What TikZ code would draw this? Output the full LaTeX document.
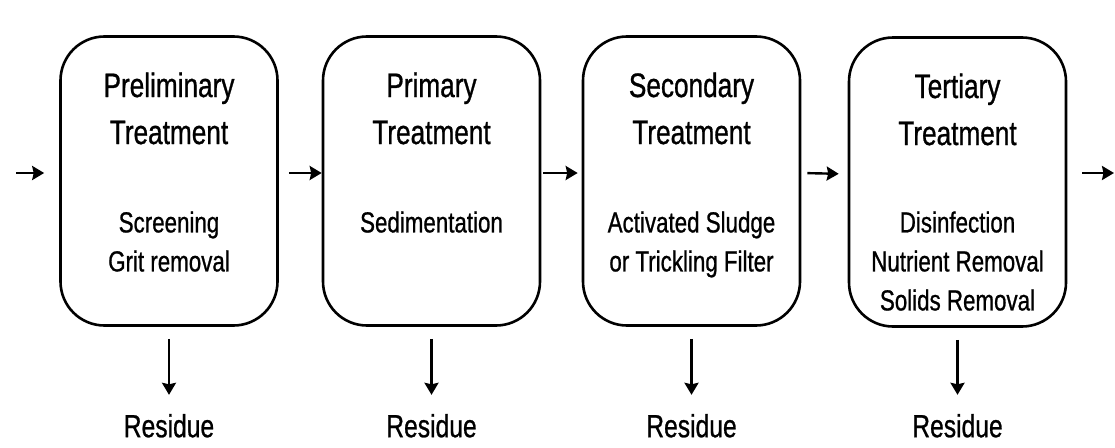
\documentclass[tikz,border=0pt]{standalone}
\usepackage{fontspec}
\setmainfont[FakeStretch=0.77, FakeBold=0.8]{Liberation Sans}
\usetikzlibrary{positioning, arrows.meta}

\begin{document}
\begin{tikzpicture}[x=1pt, y=-1pt,
		stage/.style={draw, line width=2.6pt, rounded corners=44pt,
			minimum width=217pt, minimum height=289pt, inner sep=0pt},
		heading/.style={align=center, inner sep=0pt, font=\fontsize{34}{47}\selectfont},
		detail/.style={align=center, inner sep=0pt, font=\fontsize{29}{39}\selectfont},
		residue/.style={inner sep=0pt, font=\fontsize{32}{38}\selectfont},
		flow/.style={line width=2.4pt, -{Stealth[length=12pt, width=14pt, inset=1.5pt]}}]

	\useasboundingbox (0,0) rectangle (1115,447);

	% treatment stages
	\node [stage] (b1) at (169,181) {};
	\node [stage] (b2) at (431.5,181) {};
	\node [stage] (b3) at (691.5,181) {};
	\node [stage] (b4) at (957.5,182) {};

	\node [heading, below=37pt of b1.north] (t1) {Preliminary\\Treatment};
	\node [heading, below=37pt of b2.north] (t2) {Primary\\Treatment};
	\node [heading, below=37pt of b3.north] (t3) {Secondary\\Treatment};
	\node [heading, below=37pt of b4.north] (t4) {Tertiary\\Treatment};

	\node [detail, below=176pt of b1.north] (d1) {Screening\\Grit removal};
	\node [detail, below=176pt of b2.north] (d2) {Sedimentation};
	\node [detail, below=176pt of b3.north] (d3) {Activated Sludge\\or Trickling Filter};
	\node [detail, below=175pt of b4.north] (d4) {Disinfection\\Nutrient Removal\\Solids Removal};

	% main flow
	\coordinate (in) at (16,173);
	\coordinate (out) at (1114,173);
	\draw [flow, shorten >=15pt] (in) -- (in -| b1.west);
	\draw [flow, shorten <=10pt] ([yshift=8pt]b1.east) -- ([yshift=8pt]b2.west);
	\draw [flow, shorten <=2pt, shorten >=4pt] ([yshift=8pt]b2.east) -- ([yshift=8pt]b3.west);
	\draw [flow, shorten <=6pt, shorten >=9pt] ([yshift=8pt]b3.east) -- ([yshift=8pt]b4.west);
	\draw [flow, shorten <=15pt] (out -| b4.east) -- (out);

	% residues
	\node [residue, below=87pt of b1] (r1) {Residue};
	\node [residue, below=87pt of b2] (r2) {Residue};
	\node [residue, below=87pt of b3] (r3) {Residue};
	\node [residue, below=86pt of b4] (r4) {Residue};

	\draw [flow, shorten <=12pt, shorten >=19pt] (b1) -- (r1);
	\draw [flow, shorten <=12pt, shorten >=19pt] (b2) -- (r2);
	\draw [flow, shorten <=12pt, shorten >=19pt] (b3) -- (r3);
	\draw [flow, shorten <=12pt, shorten >=19pt] (b4) -- (r4);
\end{tikzpicture}
\end{document}
